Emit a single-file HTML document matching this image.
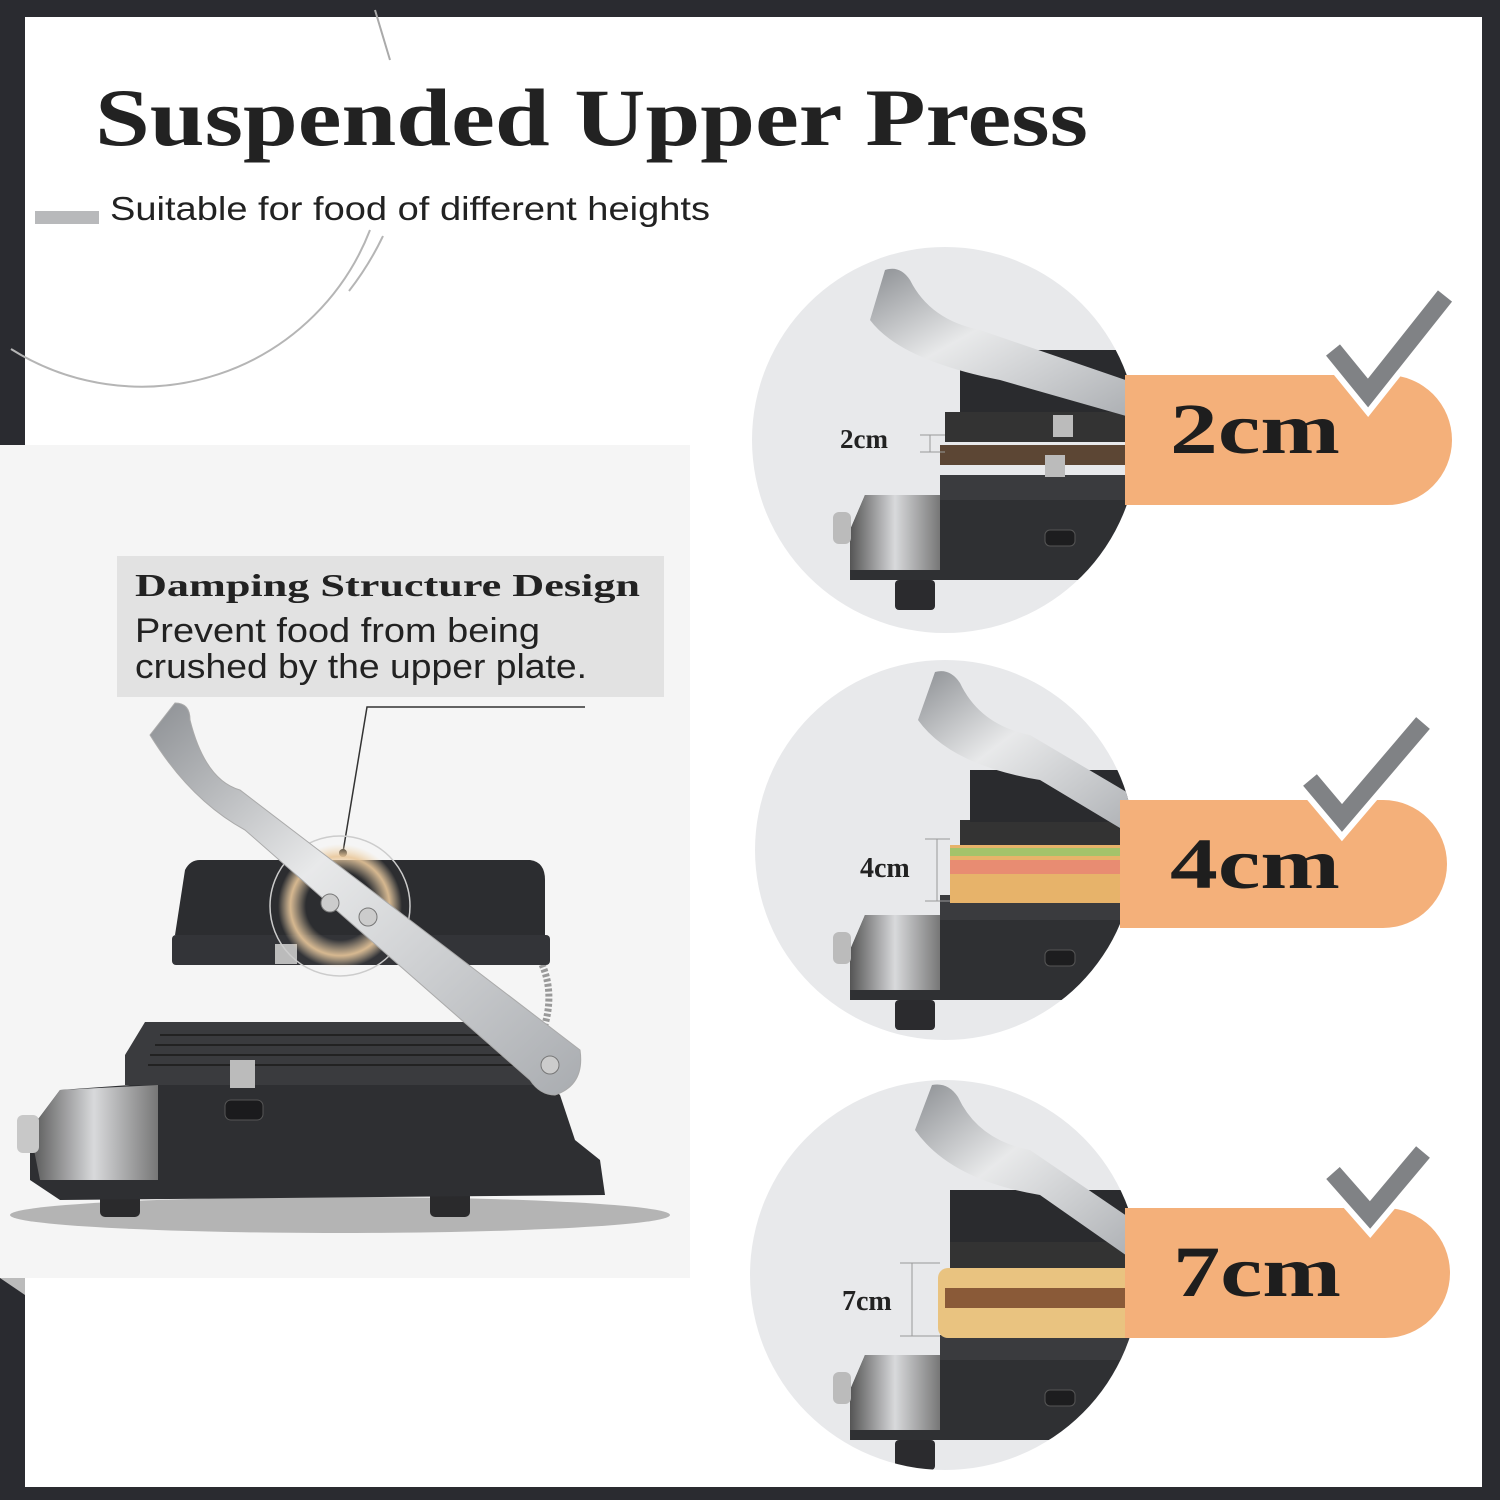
<!DOCTYPE html>
<html><head><meta charset="utf-8"><style>html,body{margin:0;padding:0;background:#2a2b30}svg{display:block}</style></head>
<body>
<svg width="1500" height="1500" viewBox="0 0 1500 1500" xmlns="http://www.w3.org/2000/svg">
<defs>
<linearGradient id="steel" x1="0" y1="0" x2="1" y2="1"><stop offset="0" stop-color="#8d9094"/><stop offset="0.4" stop-color="#e8e9ea"/><stop offset="1" stop-color="#a9acb0"/></linearGradient>
<linearGradient id="steel2" x1="0" y1="0" x2="1" y2="0"><stop offset="0" stop-color="#555"/><stop offset="0.5" stop-color="#d8d9db"/><stop offset="1" stop-color="#777"/></linearGradient>
<radialGradient id="glow" cx="0.5" cy="0.5" r="0.5"><stop offset="0.55" stop-color="#f3dcb8" stop-opacity="0"/><stop offset="0.8" stop-color="#e9c79a" stop-opacity="0.9"/><stop offset="1" stop-color="#f3dcb8" stop-opacity="0"/></radialGradient>
<linearGradient id="shadow" x1="0" y1="0" x2="0" y2="1"><stop offset="0" stop-color="#555" stop-opacity="0.7"/><stop offset="1" stop-color="#f5f5f5" stop-opacity="0"/></linearGradient>
<clipPath id="c1"><circle cx="945" cy="440" r="193"/></clipPath>
<clipPath id="c2"><circle cx="945" cy="850" r="190"/></clipPath>
<clipPath id="c3"><circle cx="945" cy="1275" r="195"/></clipPath>
<g id="mini">
 <!-- base -->
 <path d="M-95 90 L-80 55 L5 55 L5 60 L200 60 L200 140 L-95 140 Z" fill="#2f3033"/>
 <path d="M-95 90 L-80 55 L-5 55 L-5 130 L-95 130 Z" fill="url(#steel2)"/>
 <rect x="-112" y="72" width="18" height="32" rx="6" fill="#bbb"/>
 <rect x="-50" y="140" width="40" height="30" rx="4" fill="#2b2b2e"/>
 <rect x="100" y="90" width="30" height="16" rx="5" fill="#1d1d1f" stroke="#555"/>
 <!-- lower plate -->
 <rect x="-5" y="35" width="210" height="25" fill="#3a3b3e"/>
</g>
</defs>

<!-- white panel -->
<rect x="25" y="17" width="1457" height="1470" fill="#fff"/>
<!-- decorative arcs -->
<path d="M11 349 A245 245 0 0 0 370 230" fill="none" stroke="#b5b5b5" stroke-width="2"/>
<path d="M375 10 L390 60" stroke="#aaa" stroke-width="2"/>
<path d="M383 236 A300 300 0 0 1 349 291" fill="none" stroke="#b5b5b5" stroke-width="2"/>

<text x="95" y="145" font-family="Liberation Serif, serif" font-weight="bold" font-size="82" fill="#222" textLength="993" lengthAdjust="spacingAndGlyphs">Suspended Upper Press</text>
<rect x="35" y="211" width="64" height="13" fill="#b8b9bb"/>
<text x="110" y="220" font-family="Liberation Sans, sans-serif" font-size="33" fill="#222" textLength="600" lengthAdjust="spacingAndGlyphs" style="font-weight:300">Suitable for food of different heights</text>

<!-- left panel -->
<rect x="0" y="445" width="690" height="833" fill="#f5f5f5"/>
<polygon points="0,1278 25,1278 25,1295" fill="#bbb"/>
<rect x="117" y="556" width="547" height="141" fill="#e2e2e2"/>
<text x="135" y="596" font-family="Liberation Serif, serif" font-weight="bold" font-size="32" fill="#222" textLength="505" lengthAdjust="spacingAndGlyphs">Damping Structure Design</text>
<text x="135" y="642" font-family="Liberation Sans, sans-serif" font-size="34" fill="#222" textLength="405" lengthAdjust="spacingAndGlyphs">Prevent food from being</text>
<text x="135" y="678" font-family="Liberation Sans, sans-serif" font-size="34" fill="#222" textLength="452" lengthAdjust="spacingAndGlyphs">crushed by the upper plate.</text>
<path d="M585 707 L367 707 L343 852" fill="none" stroke="#333" stroke-width="1.5"/>
<circle cx="343" cy="853" r="4" fill="#111"/>

<!-- big grill -->
<ellipse cx="340" cy="1215" rx="330" ry="18" fill="#666" opacity="0.45"/>
<rect x="100" y="1185" width="40" height="32" rx="5" fill="#2a2a2c"/>
<rect x="430" y="1185" width="40" height="32" rx="5" fill="#2a2a2c"/>
<path d="M30 1130 L60 1090 L130 1085 L130 1055 L500 1040 L560 1095 L575 1140 L600 1160 L605 1195 L60 1200 L30 1180 Z" fill="#2e2f32"/>
<path d="M30 1130 L60 1090 L158 1085 L158 1180 L40 1180 Z" fill="url(#steel2)"/>
<rect x="17" y="1115" width="22" height="38" rx="6" fill="#c8c8c8"/>
<path d="M125 1055 L145 1022 L515 1022 L545 1075 L545 1085 L125 1085 Z" fill="#3a3b3e"/>
<g stroke="#222" stroke-width="2">
<line x1="160" y1="1035" x2="500" y2="1035"/><line x1="155" y1="1045" x2="505" y2="1045"/><line x1="150" y1="1055" x2="510" y2="1055"/><line x1="148" y1="1065" x2="515" y2="1065"/></g>
<rect x="230" y="1060" width="25" height="28" fill="#bbb"/>
<rect x="225" y="1100" width="38" height="20" rx="6" fill="#1b1b1d" stroke="#555"/>
<path d="M540 960 Q560 1000 535 1050" fill="none" stroke="#999" stroke-width="7" stroke-dasharray="3 2"/>
<path d="M175 935 L185 870 Q190 860 200 860 L530 860 Q545 862 545 880 L545 935 Z" fill="#2c2d30"/>
<rect x="172" y="935" width="378" height="30" rx="4" fill="#333438"/>
<rect x="275" y="944" width="22" height="20" fill="#bbb"/>
<circle cx="340" cy="906" r="70" fill="none" stroke="#ccc" stroke-width="1.5"/>
<circle cx="340" cy="906" r="62" fill="url(#glow)"/>
<path d="M150 735 L175 703 Q190 703 190 720 Q205 780 240 790 L580 1050 Q585 1085 555 1095 Q540 1095 530 1080 L245 830 Q190 800 150 735 Z" fill="url(#steel)" stroke="#aaa"/>
<circle cx="330" cy="903" r="9" fill="#ccc" stroke="#777"/>
<circle cx="368" cy="917" r="9" fill="#ccc" stroke="#777"/>
<circle cx="550" cy="1065" r="9" fill="#ccc" stroke="#777"/>

<!-- circles -->
<g>
 <circle cx="945" cy="440" r="193" fill="#e8e9eb"/>
 <g clip-path="url(#c1)">
  <use href="#mini" transform="translate(945,440)"/>
  <rect x="940" y="445" width="200" height="20" fill="#5c4634"/>
  <rect x="945" y="412" width="200" height="30" fill="#333"/>
  <rect x="960" y="350" width="170" height="62" fill="#2a2b2e"/>
  <path d="M870 320 L885 270 Q900 265 910 280 Q930 320 980 330 L1140 385 L1140 420 L1000 380 Q900 360 870 320 Z" fill="url(#steel)"/>
  <rect x="1053" y="415" width="20" height="22" fill="#bbb"/>
  <rect x="1045" y="455" width="20" height="22" fill="#bbb"/>
 </g>
 <circle cx="945" cy="850" r="190" fill="#e8e9eb"/>
 <g clip-path="url(#c2)">
  <use href="#mini" transform="translate(945,860)"/>
  <rect x="950" y="845" width="190" height="58" fill="#e7b36a"/>
  <rect x="950" y="860" width="190" height="14" fill="#e88c72"/>
  <rect x="950" y="848" width="190" height="8" fill="#a3c36a"/>
  <rect x="960" y="820" width="180" height="25" fill="#333"/>
  <rect x="970" y="770" width="160" height="52" fill="#2a2b2e"/>
  <path d="M918 720 L935 672 Q950 668 960 683 Q980 725 1030 735 L1140 800 L1140 840 L1040 780 Q950 765 918 720 Z" fill="url(#steel)"/>
 </g>
 <circle cx="945" cy="1275" r="195" fill="#e8e9eb"/>
 <g clip-path="url(#c3)">
  <use href="#mini" transform="translate(945,1300)"/>
  <rect x="938" y="1268" width="205" height="70" rx="10" fill="#e9c380"/>
  <rect x="945" y="1288" width="190" height="20" fill="#8a5a38"/>
  <rect x="950" y="1240" width="190" height="28" fill="#333"/>
  <rect x="950" y="1190" width="180" height="52" fill="#2a2b2e"/>
  <path d="M915 1130 L932 1085 Q948 1082 958 1097 Q978 1140 1030 1150 L1140 1225 L1140 1265 L1040 1195 Q950 1180 915 1130 Z" fill="url(#steel)"/>
 </g>
</g>
<!-- measure labels -->
<g font-family="Liberation Serif, serif" font-weight="bold" fill="#222">
<text x="840" y="448" font-size="27">2cm</text>
<text x="860" y="877" font-size="28">4cm</text>
<text x="842" y="1310" font-size="28">7cm</text>
</g>
<g stroke="#999" stroke-width="1"><line x1="920" y1="435" x2="945" y2="435"/><line x1="920" y1="452" x2="945" y2="452"/><line x1="930" y1="435" x2="930" y2="452"/>
<line x1="925" y1="839" x2="950" y2="839"/><line x1="925" y1="901" x2="950" y2="901"/><line x1="937" y1="839" x2="937" y2="901"/>
<line x1="900" y1="1263" x2="940" y2="1263"/><line x1="900" y1="1336" x2="940" y2="1336"/><line x1="912" y1="1263" x2="912" y2="1336"/></g>

<!-- pills -->
<path d="M1125 375 L1387 375 A65 65 0 0 1 1387 505 L1125 505 Z" fill="#f4b07a"/>
<path d="M1120 800 L1383 800 A64 64 0 0 1 1383 928 L1120 928 Z" fill="#f4b07a"/>
<path d="M1125 1208 L1385 1208 A65 65 0 0 1 1385 1338 L1125 1338 Z" fill="#f4b07a"/>
<g font-family="Liberation Serif, serif" font-weight="bold" fill="#1e1e1e" font-size="72">
<text x="1170" y="453" textLength="170" lengthAdjust="spacingAndGlyphs">2cm</text>
<text x="1170" y="888" textLength="170" lengthAdjust="spacingAndGlyphs">4cm</text>
<text x="1173" y="1296" textLength="168" lengthAdjust="spacingAndGlyphs">7cm</text>
</g>
<!-- checkmarks -->
<g fill="none" stroke-linecap="butt">
<path d="M1333 350 L1368 393 L1445 296" stroke="#fff" stroke-width="30"/>
<path d="M1333 350 L1368 393 L1445 296" stroke="#808285" stroke-width="18"/>
<path d="M1310 780 L1342 818 L1423 723" stroke="#fff" stroke-width="30"/>
<path d="M1310 780 L1342 818 L1423 723" stroke="#808285" stroke-width="18"/>
<path d="M1333 1173 L1370 1215 L1423 1152" stroke="#fff" stroke-width="30"/>
<path d="M1333 1173 L1370 1215 L1423 1152" stroke="#808285" stroke-width="18"/>
</g>
</svg>
</body></html>
